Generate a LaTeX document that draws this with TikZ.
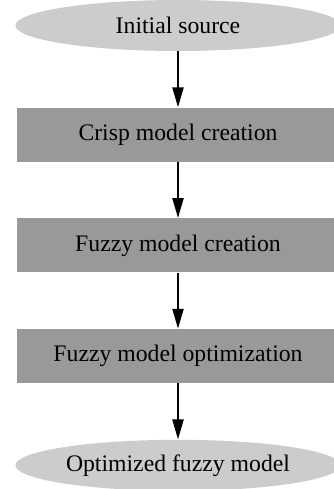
\documentclass[tikz,border=0pt]{standalone}
\usepackage{fontspec}
\setmainfont{Liberation Serif}
\usetikzlibrary{arrows.meta, positioning, shapes.geometric}

\definecolor{stepgray}{RGB}{153,153,153}
\definecolor{endgray}{RGB}{204,204,204}

\tikzset{
  endnode/.style={ellipse, fill=endgray, minimum width=6.5cm, minimum height=1.02cm, inner sep=0pt, font=\fontsize{13.5}{15}\selectfont},
  stepbox/.style={rectangle, fill=stepgray, minimum width=6.44cm, minimum height=1.08cm, inner sep=0pt, font=\fontsize{13.5}{15}\selectfont},
  flow/.style={line width=0.45mm, -{Triangle[length=0.4cm, width=0.22cm]}}
}

\begin{document}
\begin{tikzpicture}[node distance=1.12cm]
%\draw[step=0.5cm,gray,very thin] (0,0) grid (6.68,-9.78); %background grid
\useasboundingbox[fill=white] (0,0) rectangle (6.68,-9.78);

\node[endnode] (source) at (3.56,-0.51) {Initial source};
\node[stepbox, below=of source] (crisp) {Crisp model creation};
\node[stepbox, below=of crisp] (fuzzy) {Fuzzy model creation};
\node[stepbox, below=of fuzzy] (optim) {Fuzzy model optimization};
\node[endnode, below=of optim] (result) {Optimized fuzzy model};

\draw[flow] (source) -- (crisp);
\draw[flow] (crisp) -- (fuzzy);
\draw[flow] (fuzzy) -- (optim);
\draw[flow] (optim) -- (result);

\end{tikzpicture}
\end{document}
